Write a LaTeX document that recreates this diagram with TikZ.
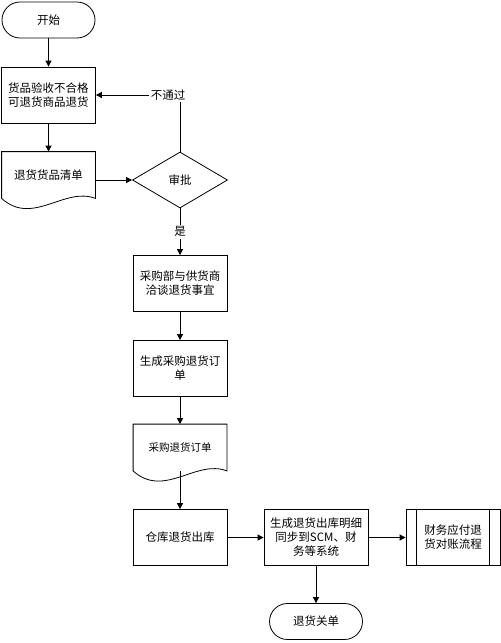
\documentclass[tikz,border=0pt]{standalone}
\usepackage{fontspec}
\setmainfont{Noto Sans CJK SC}
\usetikzlibrary{shapes.geometric,arrows.meta,calc}

\begin{document}
\begin{tikzpicture}[x=1pt, y=1pt, node distance=75pt, line width=0.8pt,
  font=\fontsize{11.5}{14}\selectfont,
  >={Triangle[length=6pt,width=6pt]},
  proc/.style={shape=rectangle, draw, minimum width=94pt, minimum height=56pt, align=center, inner sep=2pt},
  term/.style={shape=rectangle, draw, rounded corners=18pt, minimum width=93pt, minimum height=36pt},
  doc/.style={shape=rectangle, minimum width=93pt, minimum height=46pt, align=center},
  decide/.style={shape=diamond, draw, minimum width=95pt, minimum height=56pt, inner sep=0pt},
  lbl/.style={fill=white, inner sep=2pt}]
\useasboundingbox (0,0) rectangle (501,-643);

\node [term] at (48.5,-20) (start) {开始};
\node [proc, below of=start] (check) {货品验收不合格\\可退货商品退货};
\node [doc, below of=check, node distance=80pt] (D1) {退货货品清单};
\node [decide] at (180,-180) (appr) {审批};
\node [proc, below of=appr, node distance=103.5pt] (nego) {采购部与供货商\\洽谈退货事宜};
\node [proc, below of=nego, node distance=85pt] (ordr) {生成采购退货订\\单};
\node [doc, below of=ordr, node distance=79pt, font=\fontsize{10.5}{13}\selectfont] (D2) {采购退货订单};
\node [proc, below of=D2, node distance=90pt] (out) {仓库退货出库};
\node [proc, right of=out, node distance=136pt, minimum width=104pt] (sync) {生成退货出库明细\\同步到SCM、财\\务等系统};
\node [proc, right of=sync, node distance=137pt] (fin) {财务应付退\\货对账流程};
\node [term, below of=sync, node distance=84pt] (fend) {退货关单};

% document outlines
\draw (D1.north west) -- (D1.north east) -- (D1.south east) .. controls ($(D1.south east)+(-31pt,12pt)$) and ($(D1.south west)+(31pt,-28pt)$) .. (D1.south west) -- cycle;
\draw (D2.north west) -- (D2.north east) -- (D2.south east) .. controls ($(D2.south east)+(-31pt,12pt)$) and ($(D2.south west)+(31pt,-28pt)$) .. (D2.south west) -- cycle;
% predefined process bars
\draw ([xshift=11pt]fin.north west) -- ([xshift=11pt]fin.south west);
\draw ([xshift=-11pt]fin.north east) -- ([xshift=-11pt]fin.south east);

\draw[->] (start) -- (check);
\draw[->] (check) -- (D1);
\draw[->] (D1.east |- appr) -- (appr);
\draw[->] (appr) |- node [lbl, xshift=-12pt] {不通过} (check);
\draw[->] (appr) -- node [lbl] {是} (nego);
\draw[->] (nego) -- (ordr);
\draw[->] (ordr) -- (D2);
\draw[->] (D2) -- (out);
\draw[->] (out) -- (sync);
\draw[->] (sync) -- (fin);
\draw[->] (sync) -- (fend);
\end{tikzpicture}
\end{document}
